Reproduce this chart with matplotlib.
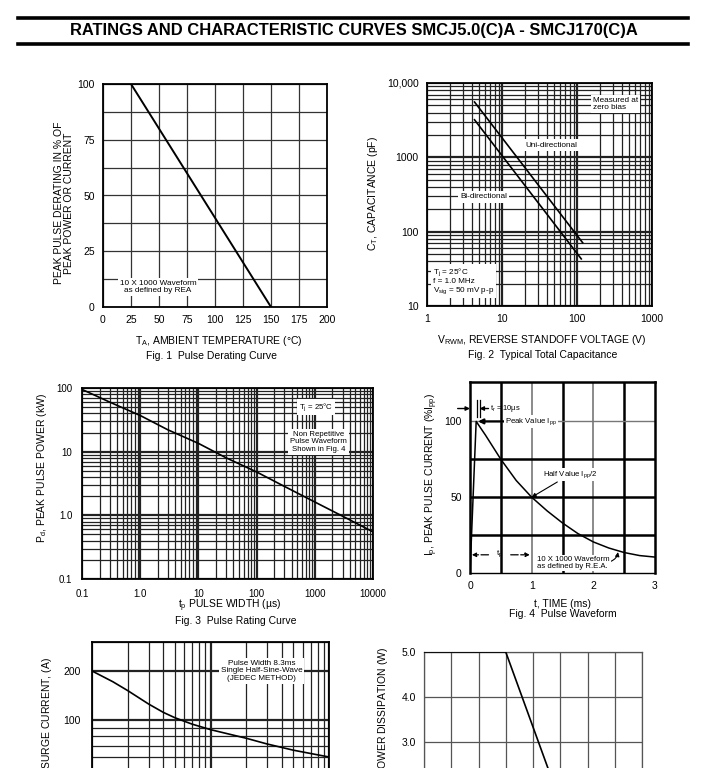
import numpy as np
import matplotlib
matplotlib.use("Agg")
import matplotlib.pyplot as plt
from matplotlib.ticker import LogLocator, NullFormatter, FixedLocator, MultipleLocator

plt.rcParams['font.family'] = ['Liberation Sans', 'DejaVu Sans']
plt.rcParams['mathtext.fontset'] = 'custom'
plt.rcParams['mathtext.rm'] = 'Liberation Sans'
plt.rcParams['mathtext.it'] = 'Liberation Sans:italic'
plt.rcParams['mathtext.default'] = 'rm'

# ---------------- data ----------------
title_text = "RATINGS AND CHARACTERISTIC CURVES SMCJ5.0(C)A - SMCJ170(C)A"

# Fig.1 Pulse derating curve
fig1_temp = [0, 25, 150]
fig1_pct = [100, 100, 0]
fig1_xticks = [0, 25, 50, 75, 100, 125, 150, 175, 200]
fig1_yticks = [0, 25, 50, 75, 100]

# Fig.2 Typical total capacitance
fig2_uni_v = [4.3, 119]
fig2_uni_c = [5550, 71]
fig2_bi_v = [4.3, 114]
fig2_bi_c = [3200, 43]
fig2_xticks = [1, 10, 100, 1000]
fig2_xlabels = ["1", "10", "100", "1000"]
fig2_yticks = [10, 100, 1000, 10000]
fig2_ylabels = ["10", "100", "1000", "10,000"]

# Fig.3 Pulse rating curve
fig3_tp = [0.1, 0.3, 1, 3, 10, 30, 100, 300, 1000, 3000, 10000]
fig3_pd = [95, 60, 37, 22, 13.5, 8.0, 4.8, 2.85, 1.62, 0.97, 0.55]
fig3_xticks = [0.1, 1, 10, 100, 1000, 10000]
fig3_xlabels = ["0.1", "1.0", "10", "100", "1000", "10000"]
fig3_yticks = [0.1, 1, 10, 100]
fig3_ylabels = ["0.1", "1.0", "10", "100"]

# Fig.4 Pulse waveform
fig4_t = [0, 0.1, 0.25, 0.5, 0.75, 1.0, 1.25, 1.5, 1.75, 2.0, 2.25, 2.5, 2.75, 3.0]
fig4_i = [0, 100, 91, 75, 61, 50, 41, 33, 26, 20.5, 16.5, 13.5, 11.5, 10.5]
fig4_xticks = [0, 1, 2, 3]
fig4_yticks = [0, 50, 100]

# Fig.5 Surge current
fig5_cycles = [1, 1.5, 2, 3, 4, 5, 6, 7, 10, 15, 20, 30, 50, 70, 100]
fig5_amp = [200, 172, 152, 126, 112, 104, 99, 95, 88, 82, 78, 72, 66, 63, 60]
fig5_yticks = [10, 100, 200]

# Fig.6 Steady state power derating
fig6_temp = [0, 75, 150]
fig6_pw = [5.0, 5.0, 0.0]
fig6_yticks = [0, 1, 2, 3, 4, 5]

# ---------------- figure ----------------
W, H = 720, 768
fig = plt.figure(figsize=(W / 100, H / 100), dpi=100)
fig.patch.set_facecolor('white')

GRID = '#222222'
TFS = 7.5   # tick font
LFS = 7.5   # label font
CFS = 7.5   # caption font
SFS = 5.9   # small annotation font


def px_axes(l, t, r, b):
    return fig.add_axes([l / W, 1 - b / H, (r - l) / W, (b - t) / H])


def fx(x):
    return x / W


def fy(y):
    return 1 - y / H


def style(ax, pad=5):
    for s in ax.spines.values():
        s.set_linewidth(1.3)
        s.set_color('black')
    ax.tick_params(which='both', length=0, labelsize=TFS, pad=pad)
    ax.set_axisbelow(True)


def loggrid(ax, xaxis=True, yaxis=True):
    if xaxis:
        ax.xaxis.set_minor_locator(LogLocator(base=10, subs=np.arange(2, 10), numticks=100))
        ax.xaxis.set_minor_formatter(NullFormatter())
    if yaxis:
        ax.yaxis.set_minor_locator(LogLocator(base=10, subs=np.arange(2, 10), numticks=100))
        ax.yaxis.set_minor_formatter(NullFormatter())
    ax.grid(which='major', color=GRID, lw=1.6)
    ax.grid(which='minor', color=GRID, lw=0.9)


box = dict(facecolor='white', edgecolor='none', pad=1.5)

# header
fig.add_artist(plt.Line2D([fx(18), fx(688)], [fy(18), fy(18)], color='black', lw=2.6))
fig.add_artist(plt.Line2D([fx(18), fx(688)], [fy(44), fy(44)], color='black', lw=2.6))
fig.text(fx(354), fy(31), title_text, ha='center', va='center', fontsize=11.9, fontweight='bold')

# ---------- Fig 1 ----------
ax1 = px_axes(103, 84, 327, 307)
ax1.plot(fig1_temp, fig1_pct, color='black', lw=1.4, zorder=3)
ax1.set_xlim(0, 200)
ax1.set_ylim(0, 100)
ax1.set_xticks(fig1_xticks)
ax1.set_yticks(fig1_yticks)
ax1.yaxis.set_minor_locator(MultipleLocator(12.5))
ax1.grid(which='both', color='#333333', lw=0.9)
style(ax1, pad=6)
ax1.text(49, 9, "10 X 1000 Waveform\nas defined by REA", fontsize=SFS, ha='center', va='center',
         bbox=box, linespacing=1.1, zorder=4)
fig.text(fx(64), fy(203), "PEAK PULSE DERATING IN % OF\nPEAK POWER OR CURRENT", rotation=90,
         ha='center', va='center', fontsize=LFS, linespacing=1.0)
fig.text(fx(219), fy(341), r"T$_{\rm A}$, AMBIENT TEMPERATURE (°C)", ha='center', va='center', fontsize=LFS)
fig.text(fx(212), fy(356), "Fig. 1  Pulse Derating Curve", ha='center', va='center', fontsize=CFS)

# ---------- Fig 2 ----------
ax2 = px_axes(427, 83, 652, 306)
ax2.set_xscale('log')
ax2.set_yscale('log')
ax2.plot(fig2_uni_v, fig2_uni_c, color='black', lw=1.2, zorder=3)
ax2.plot(fig2_bi_v, fig2_bi_c, color='black', lw=1.2, zorder=3)
ax2.set_xlim(1, 1000)
ax2.set_ylim(10, 10000)
loggrid(ax2)
ax2.xaxis.set_major_locator(FixedLocator(fig2_xticks))
ax2.set_xticklabels(fig2_xlabels)
ax2.yaxis.set_major_locator(FixedLocator(fig2_yticks))
ax2.set_yticklabels(fig2_ylabels)
style(ax2, pad=6)
ax2.text(163, 5200, "Measured at\nzero bias", fontsize=SFS, ha='left', va='center', bbox=box,
         linespacing=1.0, zorder=4)
ax2.text(46, 1465, "Uni-directional", fontsize=SFS, ha='center', va='center', bbox=box, zorder=4)
ax2.text(5.75, 293, "Bi-directional", fontsize=SFS, ha='center', va='center', bbox=box, zorder=4)
ax2.text(1.2, 21.5, "T$_{\\rm j}$ = 25°C\nf = 1.0 MHz\nV$_{\\rm sig}$ = 50 mV p-p", fontsize=SFS,
         ha='left', va='center', bbox=box, linespacing=1.05, zorder=4)
fig.text(fx(373), fy(193), r"C$_{\rm T}$, CAPACITANCE (pF)", rotation=90, ha='center', va='center',
         fontsize=LFS)
fig.text(fx(542), fy(340), r"V$_{\rm RWM}$, REVERSE STANDOFF VOLTAGE (V)", ha='center', va='center',
         fontsize=LFS)
fig.text(fx(543), fy(355), "Fig. 2  Typical Total Capacitance", ha='center', va='center', fontsize=CFS)

# ---------- Fig 3 ----------
ax3 = px_axes(82, 388, 373, 579)
ax3.set_xscale('log')
ax3.set_yscale('log')
ax3.plot(fig3_tp, fig3_pd, color='black', lw=1.2, zorder=3)
ax3.set_xlim(0.1, 10000)
ax3.set_ylim(0.1, 100)
loggrid(ax3)
ax3.xaxis.set_major_locator(FixedLocator(fig3_xticks))
ax3.set_xticklabels(fig3_xlabels)
ax3.yaxis.set_major_locator(FixedLocator(fig3_yticks))
ax3.set_yticklabels(fig3_ylabels)
style(ax3, pad=7)
ax3.tick_params(labelsize=7)
ax3.text(1050, 50, "T$_{\\rm j}$ = 25°C", fontsize=SFS - 0.3, ha='center', va='center', bbox=box, zorder=4)
ax3.text(1170, 14.2, "Non Repetitive\nPulse Waveform\nShown in Fig. 4", fontsize=SFS - 0.3,
         ha='center', va='center', bbox=box, linespacing=1.1, zorder=4)
fig.text(fx(42), fy(468), r"P$_{\rm d}$, PEAK PULSE POWER (kW)", rotation=90, ha='center', va='center',
         fontsize=LFS)
fig.text(fx(230), fy(606), r"t$_{\rm p}$ PULSE WIDTH (µs)", ha='center', va='center', fontsize=LFS)
fig.text(fx(236), fy(621), "Fig. 3  Pulse Rating Curve", ha='center', va='center', fontsize=CFS)

# ---------- Fig 4 ----------
ax4 = px_axes(470, 382, 655, 573)
ax4.plot(fig4_t, fig4_i, color='black', lw=1.1, zorder=3)
ax4.set_xlim(0, 3)
ax4.set_ylim(0, 126)
ax4.set_xticks(fig4_xticks)
ax4.set_yticks(fig4_yticks)
for xv in [0.5, 1.5, 2.5]:
    ax4.axvline(xv, color='black', lw=1.8, zorder=1)
for xv in [1.0, 2.0]:
    ax4.axvline(xv, color='#777777', lw=1.2, zorder=1)
for yv in [25, 50, 75]:
    ax4.axhline(yv, color='black', lw=1.8, zorder=1)
ax4.axhline(100, color='#777777', lw=1.0, zorder=1)
style(ax4, pad=6)
for s in ax4.spines.values():
    s.set_linewidth(1.8)
ax4.spines['bottom'].set_linewidth(1.0)
# t_r marker
ax4.plot([0.12, 0.12], [103, 114], color='black', lw=0.9, zorder=4)
ax4.plot([0.155, 0.155], [103, 114], color='black', lw=0.9, zorder=4)
ax4.annotate("", xy=(0.0, 108.5), xytext=(-0.2, 108.5), annotation_clip=False,
             arrowprops=dict(arrowstyle='-|>', color='black', lw=1.0, mutation_scale=6, shrinkA=0, shrinkB=0))
ax4.annotate("", xy=(0.155, 108.5), xytext=(0.3, 108.5),
             arrowprops=dict(arrowstyle='-|>', color='black', lw=1.0, mutation_scale=6, shrinkA=0, shrinkB=0))
ax4.text(0.32, 108.5, "t$_{\\rm r}$ = 10µs", fontsize=SFS - 0.5, ha='left', va='center', zorder=4)
ax4.annotate("Peak Value I$_{\\rm pp}$", xy=(0.13, 100), xytext=(0.57, 100), fontsize=SFS - 0.3,
             ha='left', va='center', zorder=4, bbox=dict(facecolor='white', edgecolor='none', pad=0.5),
             arrowprops=dict(arrowstyle='-|>', color='black', lw=1.6, mutation_scale=7, shrinkA=0, shrinkB=0))
ax4.annotate("Half Value I$_{\\rm pp}$/2", xy=(1.0, 50), xytext=(1.18, 65), fontsize=SFS - 0.3,
             ha='left', va='center', zorder=4, bbox=dict(facecolor='white', edgecolor='none', pad=0.5),
             arrowprops=dict(arrowstyle='-|>', color='black', lw=0.8, mutation_scale=6, shrinkA=2, shrinkB=0))
# t_p dimension
ax4.annotate("", xy=(0.03, 12), xytext=(0.3, 12),
             arrowprops=dict(arrowstyle='-|>', color='black', lw=0.9, mutation_scale=6, shrinkA=0, shrinkB=0,
                             linestyle=(0, (6, 2))))
ax4.annotate("", xy=(0.97, 12), xytext=(0.66, 12),
             arrowprops=dict(arrowstyle='-|>', color='black', lw=0.9, mutation_scale=6, shrinkA=0, shrinkB=0,
                             linestyle=(0, (6, 2))))
ax4.text(0.48, 12.5, "t$_{\\rm p}$", fontsize=SFS, ha='center', va='center', zorder=4)
ax4.annotate("10 X 1000 Waveform\nas defined by R.E.A.", xy=(2.4, 13.8), xytext=(1.09, 6.5),
             fontsize=SFS - 0.3, ha='left', va='center', linespacing=1.1, zorder=4,
             bbox=dict(facecolor='white', edgecolor='none', pad=0.8),
             arrowprops=dict(arrowstyle='-|>', color='black', lw=0.8, mutation_scale=6, shrinkA=0, shrinkB=0,
                             connectionstyle='arc3,rad=0.3', relpos=(1.0, 0.6)))
fig.text(fx(432), fy(474), r"I$_{\rm p}$, PEAK PULSE CURRENT (%I$_{\rm pp}$)", rotation=90,
         ha='center', va='center', fontsize=LFS)
fig.text(fx(562), fy(604), "t, TIME (ms)", ha='center', va='center', fontsize=LFS)
fig.text(fx(563), fy(614), "Fig. 4  Pulse Waveform", ha='center', va='center', fontsize=CFS)

# ---------- Fig 5 ----------
ax5 = px_axes(92, 642, 329, 885)
ax5.set_xscale('log')
ax5.set_yscale('log')
ax5.plot(fig5_cycles, fig5_amp, color='black', lw=1.2, zorder=3)
ax5.set_xlim(1, 100)
ax5.set_ylim(10, 300)
loggrid(ax5)
ax5.yaxis.set_major_locator(FixedLocator(fig5_yticks))
ax5.set_yticklabels([str(v) for v in fig5_yticks])
ax5.set_xticklabels([])
style(ax5, pad=8)
ax5.text(27, 200, "Pulse Width 8.3ms\nSingle Half-Sine-Wave\n(JEDEC METHOD)", fontsize=SFS,
         ha='center', va='center', bbox=box, linespacing=1.1, zorder=4)
fig.text(fx(47), fy(657), r"I$_{\rm FSM}$, PEAK FORWARD SURGE CURRENT, (A)", rotation=90,
         ha='center', va='top', fontsize=LFS)

# ---------- Fig 6 ----------
ax6 = px_axes(424, 652, 642, 877)
ax6.plot(fig6_temp, fig6_pw, color='black', lw=1.2, zorder=3)
ax6.set_xlim(0, 200)
ax6.set_ylim(0, 5)
ax6.set_xticks([0, 25, 50, 75, 100, 125, 150, 175, 200])
ax6.set_yticks(fig6_yticks)
ax6.set_yticklabels(["%.1f" % v for v in fig6_yticks])
ax6.set_xticklabels([])
ax6.grid(which='major', color='#555555', lw=0.9)
style(ax6, pad=6)
for s in ax6.spines.values():
    s.set_linewidth(0.9)
    s.set_color('#555555')
fig.text(fx(385), fy(647), r"P$_{\rm M(AV)}$, STEADY STATE POWER DISSIPATION (W)", rotation=90,
         ha='center', va='top', fontsize=LFS)

fig.savefig("out.png", dpi=100, facecolor='white')
